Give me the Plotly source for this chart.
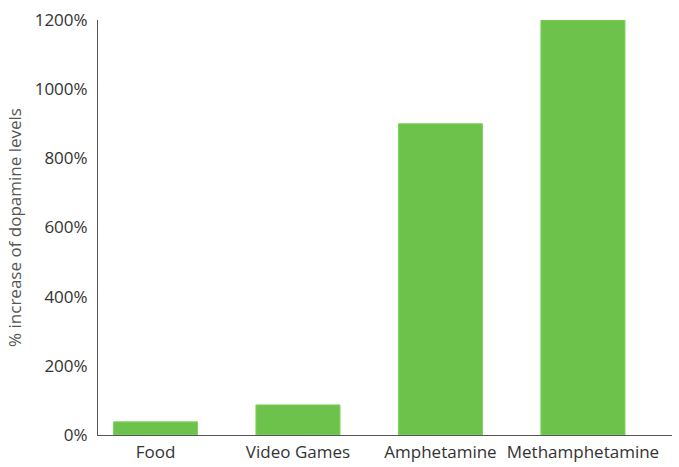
import plotly.graph_objects as go

categories = ["Food", "Video Games", "Amphetamine", "Methamphetamine"]
values = [38, 87, 900, 1200]
tick_vals = [0, 200, 400, 600, 800, 1000, 1200]
tick_text = ["0%", "200%", "400%", "600%", "800%", "1000%", "1200%"]

fig = go.Figure(go.Bar(
    x=list(range(len(categories))), y=values,
    width=0.59,
    marker=dict(color="#6dc24b", line=dict(color="#7fd45c", width=1)),
))
fig.update_layout(
    width=679, height=467,
    margin=dict(l=98, r=7, t=20, b=32, autoexpand=False),
    paper_bgcolor="white", plot_bgcolor="white",
    font=dict(family="Open Sans", size=17, color="#333"),
    showlegend=False,
)
fig.update_xaxes(
    range=[-0.4035, 3.625], tickvals=list(range(len(categories))), ticktext=categories,
    showline=True, linecolor="#555", linewidth=1, showgrid=False, zeroline=False,
    ticks="", tickfont=dict(size=17, color="#333"), ticklabelstandoff=2, automargin=False,
)
fig.update_yaxes(
    range=[0, 1200], tickvals=tick_vals, ticktext=tick_text,
    showline=True, linecolor="#555", linewidth=1, showgrid=False, zeroline=False,
    ticks="", ticklen=0, tickfont=dict(size=17, color="#333"), ticklabelstandoff=6,
    automargin=False,
    title=dict(text="% increase of dopamine levels", font=dict(size=17, color="#555"), standoff=8),
)
fig.write_html("out.html", config={"displayModeBar": False},
               post_script="document.body.style.margin='0';")
